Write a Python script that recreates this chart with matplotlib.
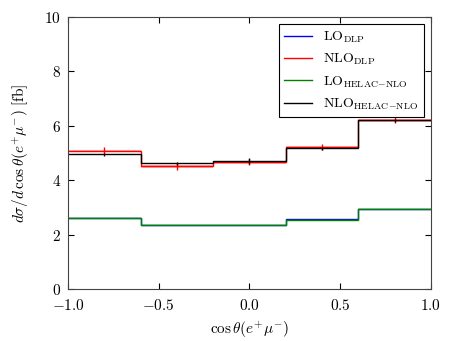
import matplotlib
matplotlib.use("Agg")
import matplotlib.pyplot as plt
from matplotlib.ticker import FuncFormatter
import numpy as np

plt.rcParams['mathtext.fontset'] = 'cm'
plt.rcParams['font.family'] = 'serif'
plt.rcParams['font.serif'] = ['DejaVu Serif']

# bin edges in cos(theta)
edges = [-1.0, -0.6, -0.2, 0.2, 0.6, 1.0]
centers = [-0.8, -0.4, 0.0, 0.4, 0.8]

# cross sections [fb]
lo_dlp = [2.63, 2.37, 2.37, 2.57, 2.96]
nlo_dlp = [5.09, 4.51, 4.67, 5.23, 6.21]
nlo_dlp_err = [0.12, 0.12, 0.11, 0.12, 0.12]
lo_helac = [2.62, 2.36, 2.37, 2.56, 2.95]
nlo_helac = [4.96, 4.63, 4.71, 5.17, 6.20]
nlo_helac_err = [0.05, 0.05, 0.11, 0.05, 0.05]

fig = plt.figure(figsize=(4.54, 3.41), dpi=100)
ax = fig.add_axes([0.15, 0.152, 0.799, 0.798])

ax.stairs(lo_dlp, edges, baseline=None, color='blue', lw=1, label=r'$\mathrm{LO}_{\mathrm{DLP}}$')
ax.stairs(nlo_dlp, edges, baseline=None, color='red', lw=1, label=r'$\mathrm{NLO}_{\mathrm{DLP}}$')
ax.stairs(np.array(nlo_dlp) + 0.04, edges, baseline=np.array(nlo_dlp) - 0.06,
          fill=True, color='red', alpha=0.3, lw=0)
ax.errorbar(centers, nlo_dlp, yerr=nlo_dlp_err, fmt='none', ecolor='red', lw=1)
ax.stairs(lo_helac, edges, baseline=None, color='green', lw=1,
          label=r'$\mathrm{LO}_{\mathrm{HELAC\!-\!NLO}}$')
ax.stairs(np.array(lo_helac) + 0.03, edges, baseline=np.array(lo_helac) - 0.03,
          fill=True, color='green', alpha=0.2, lw=0)
ax.stairs(nlo_helac, edges, baseline=None, color='black', lw=1,
          label=r'$\mathrm{NLO}_{\mathrm{HELAC\!-\!NLO}}$')
ax.errorbar(centers, nlo_helac, yerr=nlo_helac_err, fmt='none', ecolor='black', lw=1)

ax.set_xlim(-1, 1)
ax.set_ylim(0, 10)
ax.set_xticks([-1.0, -0.5, 0.0, 0.5, 1.0])
ax.set_yticks([0, 2, 4, 6, 8, 10])
ax.xaxis.set_major_formatter(FuncFormatter(lambda v, p: r'$%.1f$' % v))
ax.yaxis.set_major_formatter(FuncFormatter(lambda v, p: r'$%d$' % v))
ax.tick_params(direction='in', top=True, right=True, labelsize=11, length=4)
ax.tick_params(axis='x', pad=6)
ax.tick_params(axis='y', pad=5)
for s in ax.spines.values():
    s.set_color('#444444')

ax.set_xlabel(r'$\cos\theta(e^{+}\mu^{-})$', fontsize=11, labelpad=5)
ax.set_ylabel(r'$d\sigma/d\,\cos\theta(e^{+}\mu^{-})\ [\mathrm{fb}]$', fontsize=11, labelpad=10)

leg = ax.legend(loc='upper right', fontsize=10, fancybox=False, framealpha=1,
                edgecolor='black', handlelength=2.0, borderaxespad=0.5)
leg.get_frame().set_linewidth(0.8)

fig.savefig('out.png', dpi=100)
